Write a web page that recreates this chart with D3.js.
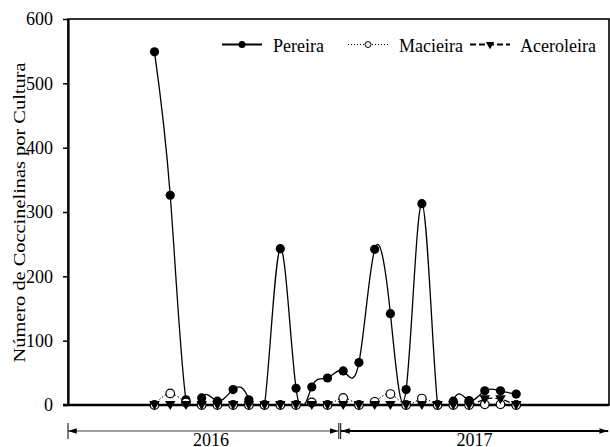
<!DOCTYPE html>
<html>
<head>
<meta charset="utf-8">
<script src="https://cdn.jsdelivr.net/npm/d3@7"></script>
<style>
  body { margin: 0; background: #fff; }
  svg text { font-family: "Liberation Serif", "DejaVu Serif", serif; fill: #000; }
</style>
</head>
<body>
<div id="svganchor"></div>
<script>
let width = 610, height = 447;

let margin = ({top: 19, right: 1, bottom: 42, left: 68});
let serif = "Liberation Serif, DejaVu Serif, serif";
let fontSize = 18;

// sampling dates, one per fortnight (index only)
let samples = d3.range(24);

let pereira = [549, 326, 8, 11, 6, 24, 8, 0, 243, 26, 28, 42,
               53, 66, 242, 142, 24, 313, 0, 6, 7, 22, 22, 17];
let macieira = [0, 18, 4, 0, 0, 0, 0, 0, 0, 0, 4, 0,
                11, 0, 5, 17, 0, 10, 0, 0, 0, 1, 1, 0];
let aceroleira = [0, 0, 0, 0, 0, 0, 0, 0, 0, 0, 0, 0,
                  0, 0, 0, 0, 0, 0, 0, 0, 0, 9, 9, 0];

let seriesNames = ["Pereira", "Macieira", "Aceroleira"];
let yTicks = [0, 100, 200, 300, 400, 500, 600];
let years = ["2016", "2017"];
let yLabel = "Número de Coccinelinas por Cultura";

let xScale = d3.scaleLinear()
    .domain([-5.5, 28.9])
    .range([margin.left, width - margin.right]);

let yScale = d3.scaleLinear()
    .domain([0, 600])
    .range([height - margin.bottom, margin.top]);

let svg = d3.select("#svganchor")
    .append("svg")
    .attr("width", width)
    .attr("height", height);

svg.append("defs").append("clipPath")
    .attr("id", "plotclip")
    .append("rect")
    .attr("x", margin.left)
    .attr("y", margin.top)
    .attr("width", width - margin.right - margin.left)
    .attr("height", height - margin.bottom - margin.top);

// frame
svg.append("rect")
    .attr("x", margin.left)
    .attr("y", margin.top)
    .attr("width", width - margin.right - margin.left)
    .attr("height", height - margin.bottom - margin.top)
    .attr("fill", "none")
    .attr("stroke", "#000")
    .attr("stroke-width", 1.6);

let yAxis = d3.axisLeft(yScale)
    .tickValues(yTicks)
    .tickSizeInner(5)
    .tickSizeOuter(0)
    .tickPadding(10);

let gY = svg.append("g")
    .attr("class", "y axis")
    .attr("transform", `translate(${margin.left},0)`)
    .call(yAxis)
    .attr("font-family", serif)
    .attr("font-size", fontSize);

gY.select(".domain").attr("stroke-width", 2.2);
gY.selectAll(".tick line").attr("stroke-width", 1.5);

svg.append("line")
    .attr("x1", margin.left - 5)
    .attr("x2", width - margin.right)
    .attr("y1", yScale(0))
    .attr("y2", yScale(0))
    .attr("stroke", "#000")
    .attr("stroke-width", 2.4);

svg.append("text")
    .attr("transform", `translate(25,212.5) rotate(-90)`)
    .attr("text-anchor", "middle")
    .attr("font-family", serif)
    .attr("font-size", 17.5)
    .attr("textLength", 300)
    .attr("lengthAdjust", "spacingAndGlyphs")
    .text(yLabel);

let line = function(vals) {
    return d3.line()
        .x(function(d, i) { return xScale(samples[i]); })
        .y(function(d) { return yScale(d); })
        .curve(d3.curveNatural)(vals);
};

let plot = svg.append("g").attr("clip-path", "url(#plotclip)");

plot.append("path")
    .attr("d", line(pereira))
    .attr("fill", "none")
    .attr("stroke", "#000")
    .attr("stroke-width", 1.3);

plot.append("path")
    .attr("d", line(macieira))
    .attr("fill", "none")
    .attr("stroke", "#000")
    .attr("stroke-width", 1)
    .attr("stroke-dasharray", "1.5,2");

plot.append("path")
    .attr("d", line(aceroleira))
    .attr("fill", "none")
    .attr("stroke", "#000")
    .attr("stroke-width", 1.3)
    .attr("stroke-dasharray", "6,3");

let tri = d3.symbol().type(d3.symbolTriangle).size(48);

svg.selectAll(".pdot")
    .data(pereira)
    .enter()
    .append("circle")
    .attr("cx", function(d, i) { return xScale(samples[i]); })
    .attr("cy", function(d) { return yScale(d); })
    .attr("r", 4.6)
    .attr("fill", "#000");

svg.selectAll(".mdot")
    .data(macieira)
    .enter()
    .append("circle")
    .attr("cx", function(d, i) { return xScale(samples[i]); })
    .attr("cy", function(d) { return yScale(d); })
    .attr("r", 4.3)
    .attr("fill", "#fff")
    .attr("stroke", "#000")
    .attr("stroke-width", 1.2);

svg.selectAll(".adot")
    .data(aceroleira)
    .enter()
    .append("path")
    .attr("d", tri)
    .attr("transform", function(d, i) {
        return `translate(${xScale(samples[i])},${yScale(d) - 1}) rotate(180)`;
    })
    .attr("fill", "#000");

// legend
let legendX = [222, 348, 470];
let legendY = 44.5;
let legend = svg.append("g");

seriesNames.forEach(function(name, k) {
    let x0 = legendX[k];
    let ln = legend.append("line")
        .attr("x1", x0).attr("x2", x0 + 40)
        .attr("y1", legendY).attr("y2", legendY)
        .attr("stroke", "#000");
    if (k === 0) ln.attr("stroke-width", 2);
    if (k === 1) ln.attr("stroke-width", 1).attr("stroke-dasharray", "1,2");
    if (k === 2) ln.attr("stroke-width", 2).attr("stroke-dasharray", "6,3");

    if (k === 0) {
        legend.append("circle").attr("cx", x0 + 20).attr("cy", legendY).attr("r", 3.5).attr("fill", "#000");
    } else if (k === 1) {
        legend.append("circle").attr("cx", x0 + 20).attr("cy", legendY).attr("r", 3)
            .attr("fill", "#fff").attr("stroke", "#000").attr("stroke-width", 1);
    } else {
        legend.append("path")
            .attr("d", d3.symbol().type(d3.symbolTriangle).size(30))
            .attr("transform", `translate(${x0 + 20},${legendY}) rotate(180)`)
            .attr("fill", "#000");
    }

    legend.append("text")
        .attr("x", k === 2 ? x0 + 50 : x0 + 51)
        .attr("y", legendY + 7.2)
        .attr("font-family", serif)
        .attr("font-size", fontSize)
        .text(name);
});

// year arrows under the axis
let arrowY = 431;
let yearStart = [-5.5, 11.86];
let yearEnd = [11.7, 28.85];

svg.append("defs").selectAll("marker")
    .data(["head"])
    .enter()
    .append("marker")
    .attr("id", "head")
    .attr("viewBox", "0 -4 10 8")
    .attr("refX", 10)
    .attr("refY", 0)
    .attr("markerUnits", "userSpaceOnUse")
    .attr("markerWidth", 9)
    .attr("markerHeight", 7)
    .attr("orient", "auto-start-reverse")
    .append("path")
    .attr("d", "M0,-3.2L10,0L0,3.2Z")
    .attr("fill", "#000");

years.forEach(function(yr, k) {
    let x1 = xScale(yearStart[k]), x2 = xScale(yearEnd[k]);
    svg.append("line")
        .attr("x1", x1).attr("x2", x2)
        .attr("y1", arrowY).attr("y2", arrowY)
        .attr("stroke", k === 0 ? "#444" : "#000")
        .attr("stroke-width", k === 0 ? 1.2 : 1.8)
        .attr("marker-start", "url(#head)")
        .attr("marker-end", "url(#head)");
    svg.append("text")
        .attr("x", k === 0 ? 211 : (x1 + x2) / 2)
        .attr("y", 446)
        .attr("text-anchor", "middle")
        .attr("font-family", serif)
        .attr("font-size", fontSize)
        .text(yr);
});

[xScale(-5.5), xScale(11.72), xScale(11.84)].forEach(function(x) {
    svg.append("line")
        .attr("x1", x).attr("x2", x)
        .attr("y1", 423).attr("y2", 439)
        .attr("stroke", "#000")
        .attr("stroke-width", 1);
});
</script>
</body>
</html>
